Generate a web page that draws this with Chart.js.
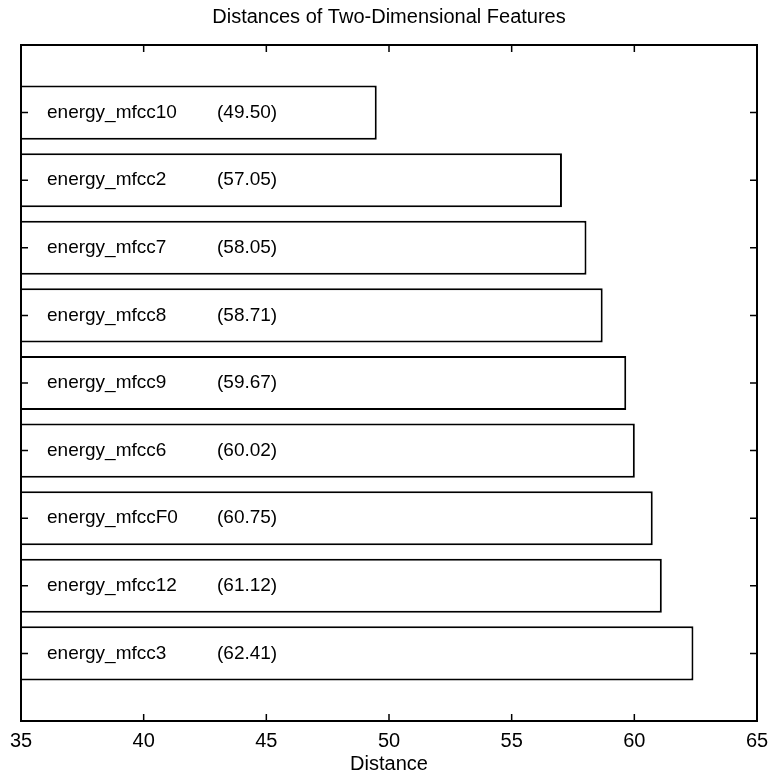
<!DOCTYPE html>
<html lang="en">
<head>
    <meta charset="UTF-8">
    <title>Distances of Two-Dimensional Features</title>
    <script src="https://cdn.jsdelivr.net/npm/chart.js"></script>
    <style>
        html, body { margin: 0; padding: 0; background: #fff; }
        #wrap { width: 774px; height: 779px; }
    </style>
</head>
<body>
    <div id="wrap"><canvas id="distChart"></canvas></div>

    <script>
        // features listed top to bottom, with their distances
        const features = ['energy_mfcc10', 'energy_mfcc2', 'energy_mfcc7', 'energy_mfcc8', 'energy_mfcc9',
                          'energy_mfcc6', 'energy_mfccF0', 'energy_mfcc12', 'energy_mfcc3'];
        const distances = [49.50, 57.05, 58.05, 58.71, 59.67, 60.02, 60.75, 61.12, 62.41];
        const xTicks = [35, 40, 45, 50, 55, 60, 65];

        const FONT = '"Liberation Sans", Arial, Helvetica, sans-serif';
        Chart.defaults.font.family = FONT;
        Chart.defaults.color = '#000';

        // bar rows sit at 1..9 on a 0..10 axis
        const points = distances.map((d, i) => ({ x: d, y: i + 1 }));

        // box frame, inward ticks and the text inside each bar
        const framePlugin = {
            id: 'frame',
            afterDatasetsDraw(chart) {
                const { ctx, chartArea: a, scales } = chart;
                const x = scales.x, y = scales.y;
                const len = 7;
                ctx.save();
                ctx.strokeStyle = '#000';
                ctx.lineWidth = 2;
                ctx.strokeRect(a.left, a.top, a.right - a.left, a.bottom - a.top);
                ctx.lineWidth = 1.5;
                ctx.beginPath();
                xTicks.slice(1, -1).forEach(v => {
                    const px = x.getPixelForValue(v);
                    ctx.moveTo(px, a.bottom); ctx.lineTo(px, a.bottom - len);
                    ctx.moveTo(px, a.top); ctx.lineTo(px, a.top + len);
                });
                points.forEach(p => {
                    const py = y.getPixelForValue(p.y);
                    ctx.moveTo(a.left, py); ctx.lineTo(a.left + len, py);
                    ctx.moveTo(a.right, py); ctx.lineTo(a.right - len, py);
                });
                ctx.stroke();

                ctx.fillStyle = '#000';
                ctx.font = '19px ' + FONT;
                ctx.textBaseline = 'middle';
                ctx.textAlign = 'left';
                points.forEach((p, i) => {
                    const py = y.getPixelForValue(p.y);
                    ctx.fillText(features[i], a.left + 26, py);
                    ctx.fillText('(' + distances[i].toFixed(2) + ')', a.left + 196, py);
                });
                ctx.restore();
            }
        };

        new Chart(document.getElementById('distChart'), {
            type: 'bar',
            data: {
                datasets: [{
                    data: points,
                    backgroundColor: '#fff',
                    borderColor: '#000',
                    borderWidth: 2,
                    barPercentage: 0.8,
                    categoryPercentage: 1.0
                }]
            },
            options: {
                indexAxis: 'y',
                responsive: true,
                maintainAspectRatio: false,
                animation: false,
                layout: { padding: { left: 21, right: 17, top: 0, bottom: 0 } },
                plugins: {
                    legend: { display: false },
                    tooltip: { enabled: false },
                    title: {
                        display: true,
                        text: 'Distances of Two-Dimensional Features',
                        font: { size: 20, weight: 'normal' },
                        color: '#000',
                        padding: { top: 5, bottom: 16 }
                    }
                },
                scales: {
                    x: {
                        type: 'linear',
                        min: 35,
                        max: 65,
                        grid: { display: false },
                        border: { display: false },
                        afterBuildTicks: scale => { scale.ticks = xTicks.map(v => ({ value: v })); },
                        afterFit: scale => { scale.height = 58; },
                        ticks: { font: { size: 20 }, padding: 0, color: '#000', maxRotation: 0 },
                        title: {
                            display: true,
                            text: 'Distance',
                            font: { size: 20 },
                            color: '#000',
                            padding: { top: 0, bottom: 3 }
                        }
                    },
                    y: {
                        type: 'linear',
                        min: 0,
                        max: 10,
                        reverse: true,
                        offset: false,
                        display: false
                    }
                }
            },
            plugins: [framePlugin]
        });
    </script>
</body>
</html>
